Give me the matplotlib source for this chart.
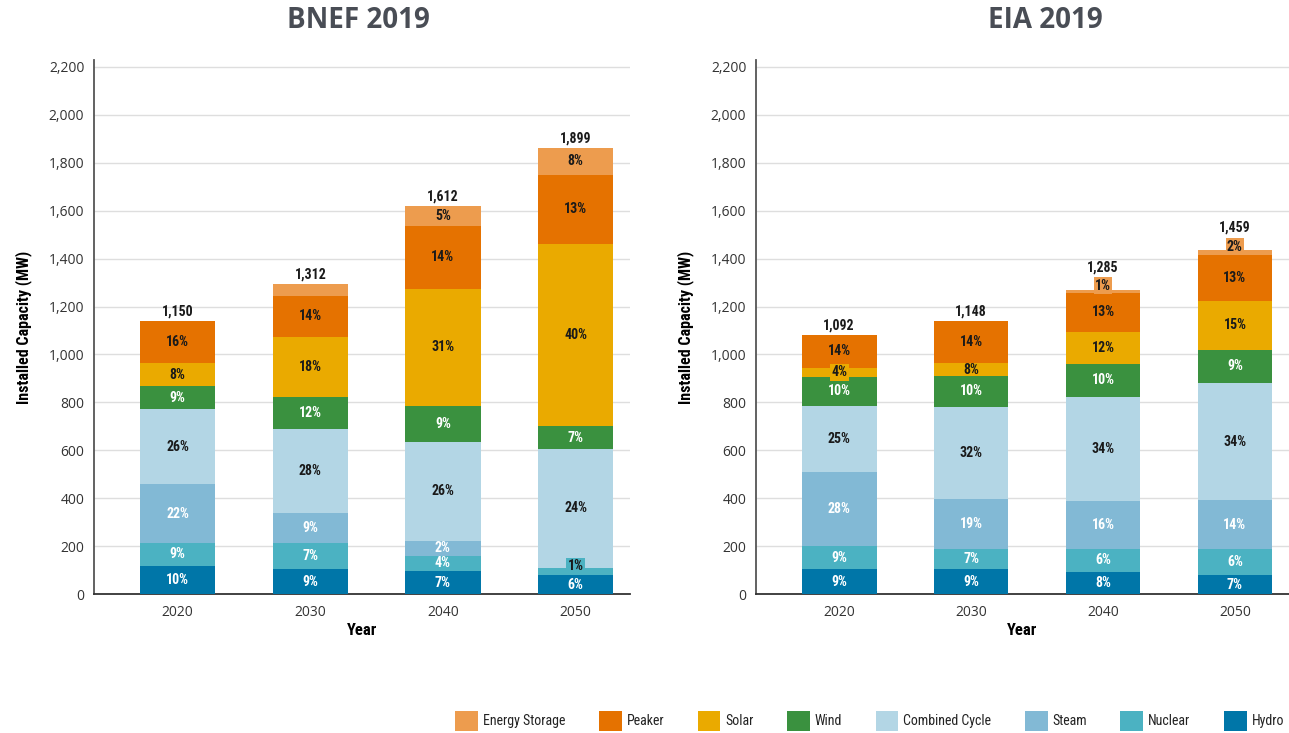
import matplotlib
matplotlib.use("Agg")
import matplotlib.pyplot as plt
from matplotlib import font_manager
from matplotlib.patches import Patch
import numpy as np

# ---------------- data ----------------
years = ["2020", "2030", "2040", "2050"]
techs = ["Hydro", "Nuclear", "Steam", "Combined Cycle", "Wind", "Solar", "Peaker", "Energy Storage"]

# BNEF 2019 (MW)
bnef_hydro = [117, 104, 96, 79]
bnef_nuclear = [96, 109, 63, 30]
bnef_steam = [246, 125, 62, 0]
bnef_cc = [313, 351, 414, 496]
bnef_wind = [96, 134, 150, 96]
bnef_solar = [96, 250, 488, 760]
bnef_peaker = [176, 171, 264, 288]
bnef_storage = [0, 50, 83, 113]
bnef_totals = [1150, 1312, 1612, 1899]

bnef_hydro_pct = ["10%", "9%", "7%", "6%"]
bnef_nuclear_pct = ["9%", "7%", "4%", "1%"]
bnef_steam_pct = ["22%", "9%", "2%", ""]
bnef_cc_pct = ["26%", "28%", "26%", "24%"]
bnef_wind_pct = ["9%", "12%", "9%", "7%"]
bnef_solar_pct = ["8%", "18%", "31%", "40%"]
bnef_peaker_pct = ["16%", "14%", "14%", "13%"]
bnef_storage_pct = ["", "", "5%", "8%"]

# EIA 2019 (MW)
eia_hydro = [104, 104, 92, 79]
eia_nuclear = [96, 84, 96, 109]
eia_steam = [309, 209, 200, 204]
eia_cc = [277, 384, 435, 489]
eia_wind = [120, 129, 137, 138]
eia_solar = [39, 54, 134, 204]
eia_peaker = [136, 176, 164, 194]
eia_storage = [0, 0, 11, 19]
eia_totals = [1092, 1148, 1285, 1459]

eia_hydro_pct = ["9%", "9%", "8%", "7%"]
eia_nuclear_pct = ["9%", "7%", "6%", "6%"]
eia_steam_pct = ["28%", "19%", "16%", "14%"]
eia_cc_pct = ["25%", "32%", "34%", "34%"]
eia_wind_pct = ["10%", "10%", "10%", "9%"]
eia_solar_pct = ["4%", "8%", "12%", "15%"]
eia_peaker_pct = ["14%", "14%", "13%", "13%"]
eia_storage_pct = ["", "", "1%", "2%"]

yticks = [0, 200, 400, 600, 800, 1000, 1200, 1400, 1600, 1800, 2000, 2200]

# ---------------- style ----------------
colors = {
    "Hydro": "#0076A8",
    "Nuclear": "#4BB2C2",
    "Steam": "#82B9D5",
    "Combined Cycle": "#B3D6E5",
    "Wind": "#3A913F",
    "Solar": "#EAAA00",
    "Peaker": "#E57200",
    "Energy Storage": "#ED9C4E",
}
light_text = {"Hydro", "Nuclear", "Steam", "Wind"}

available = {f.name for f in font_manager.fontManager.ttflist}
def pick(cands):
    for c in cands:
        if c in available:
            return c
    return "DejaVu Sans"

base_font = pick(["Open Sans", "Noto Sans", "DejaVu Sans"])
narrow_font = pick(["Roboto Condensed", "Liberation Sans Narrow", "Open Sans Condensed", "Noto Sans", "Open Sans"])
plt.rcParams["font.family"] = [base_font, "DejaVu Sans"]
NARROW = [narrow_font, "DejaVu Sans"]

fig = plt.figure(figsize=(12.89, 7.33), dpi=100)
W, H = 1289, 733
ax1 = fig.add_axes([94 / W, 139 / H, 536 / W, 534 / H])
ax2 = fig.add_axes([756 / W, 139 / H, 533 / W, 534 / H])

series_bnef = [
    (bnef_hydro, bnef_hydro_pct), (bnef_nuclear, bnef_nuclear_pct), (bnef_steam, bnef_steam_pct),
    (bnef_cc, bnef_cc_pct), (bnef_wind, bnef_wind_pct), (bnef_solar, bnef_solar_pct),
    (bnef_peaker, bnef_peaker_pct), (bnef_storage, bnef_storage_pct),
]
series_eia = [
    (eia_hydro, eia_hydro_pct), (eia_nuclear, eia_nuclear_pct), (eia_steam, eia_steam_pct),
    (eia_cc, eia_cc_pct), (eia_wind, eia_wind_pct), (eia_solar, eia_solar_pct),
    (eia_peaker, eia_peaker_pct), (eia_storage, eia_storage_pct),
]

x = np.arange(len(years))
bar_w = 0.567
LBL = 10


def draw(ax, series, totals, title, title_x):
    bottom = np.zeros(len(years))
    top_boxed = [False] * len(years)
    for tech, (vals, pcts) in zip(techs, series):
        vals = np.array(vals, dtype=float)
        ax.bar(x, vals, bar_w, bottom=bottom, color=colors[tech], zorder=3, linewidth=0)
        for i, (v, p) in enumerate(zip(vals, pcts)):
            if v <= 0:
                continue
            top_boxed[i] = False
            if not p:
                continue
            cy = bottom[i] + v / 2
            tc = "white" if tech in light_text else "#1a1a1a"
            if v < 45:
                off = 0 if v >= 35 else 4
                ax.annotate(p, (x[i], cy), xytext=(0, off), textcoords="offset points",
                            ha="center", va="center", fontsize=LBL, fontweight="bold",
                            color="#1a1a1a", zorder=5, family=NARROW,
                            bbox=dict(boxstyle="square,pad=0.1", fc=colors[tech], ec="none"))
                top_boxed[i] = True
            else:
                ax.text(x[i], cy, p, ha="center", va="center", fontsize=LBL,
                        fontweight="bold", color=tc, zorder=5, family=NARROW)
        bottom += vals
    for i, t in enumerate(totals):
        off = 11 if top_boxed[i] else 2
        ax.annotate(f"{t:,}", (x[i], bottom[i]), xytext=(0, off), textcoords="offset points",
                    ha="center", va="bottom", fontsize=LBL, fontweight="bold",
                    color="#1a1a1a", zorder=5, family=NARROW)

    ax.set_ylim(0, 2229)
    ax.set_xlim(-0.63, 3.41)
    ax.set_yticks(yticks)
    ax.set_yticklabels([f"{v:,}" for v in yticks])
    ax.set_xticks(x)
    ax.set_xticklabels(years)
    ax.tick_params(axis="both", length=0, labelsize=10, colors="#333333")
    ax.tick_params(axis="y", pad=7)
    ax.tick_params(axis="x", pad=8)
    ax.yaxis.grid(True, color="#dedede", linewidth=1.0, zorder=0)
    ax.set_axisbelow(True)
    for s in ["top", "right"]:
        ax.spines[s].set_visible(False)
    ax.spines["left"].set_color("#555555")
    ax.spines["left"].set_linewidth(1.3)
    ax.spines["bottom"].set_color("#333333")
    ax.spines["bottom"].set_linewidth(1.3)
    ax.set_ylabel("Installed Capacity (MW)", fontsize=11.5, fontweight="bold",
                  color="black", family=NARROW, labelpad=12)
    ax.set_xlabel("Year", fontsize=12, fontweight="bold", color="black",
                  family=NARROW, labelpad=2)
    fig.text(title_x / W, 1 - 21 / H, title, ha="center", va="center",
             fontsize=20, fontweight="bold", color="#494d55")


draw(ax1, series_bnef, bnef_totals, "BNEF 2019", 358)
draw(ax2, series_eia, eia_totals, "EIA 2019", 1045)

handles = [Patch(facecolor=colors[t], edgecolor="none") for t in techs[::-1]]
leg = fig.legend(handles, techs[::-1], loc="center right",
                 bbox_to_anchor=(1284 / W, 1 - 721 / H), ncol=8, frameon=False,
                 prop={"family": NARROW, "size": 10},
                 handlelength=1.65, handleheight=1.8, handletextpad=0.35,
                 columnspacing=2.4, borderpad=0, borderaxespad=0)
for t in leg.get_texts():
    t.set_color("#222222")

fig.savefig("out.png", dpi=100)
